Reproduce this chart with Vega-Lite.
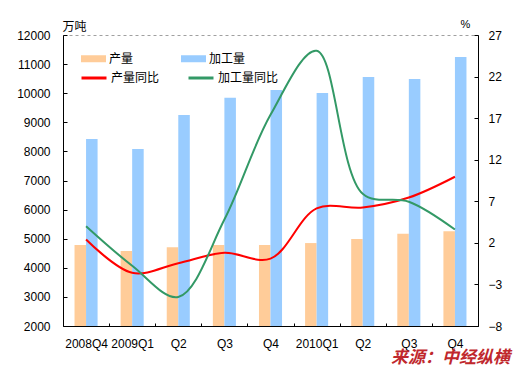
{
  "$schema": "https://vega.github.io/schema/vega-lite/v6.json",
  "width": 415,
  "height": 291,
  "autosize": {"type": "none"},
  "padding": {"left": 63, "top": 35, "right": 39, "bottom": 43},
  "background": "white",
  "config": {
    "font": "Liberation Sans, Noto Sans CJK SC",
    "view": {"stroke": "#a0a0a0", "strokeDash": [3, 3], "strokeWidth": 1},
    "axis": {
      "domainColor": "black",
      "tickColor": "black",
      "labelColor": "black",
      "labelFontSize": 12,
      "labelFont": "Liberation Sans",
      "grid": false,
      "titleFontWeight": "normal",
      "titleColor": "black"
    },
    "legend": {"padding": 0}
  },
  "title": {
    "text": "来源：中经纵横",
    "orient": "bottom",
    "anchor": "end",
    "frame": "group",
    "font": "Noto Sans CJK SC",
    "fontSize": 17,
    "fontWeight": "bold",
    "fontStyle": "italic",
    "color": "#C0282D",
    "offset": 1,
    "dx": 32
  },
  "datasets": {
    "bars": [
      {"period": "2008Q4", "series": "产量", "value": 4780},
      {"period": "2008Q4", "series": "加工量", "value": 8430},
      {"period": "2009Q1", "series": "产量", "value": 4580},
      {"period": "2009Q1", "series": "加工量", "value": 8080},
      {"period": "2009Q2", "series": "产量", "value": 4710},
      {"period": "2009Q2", "series": "加工量", "value": 9250},
      {"period": "2009Q3", "series": "产量", "value": 4780},
      {"period": "2009Q3", "series": "加工量", "value": 9840},
      {"period": "2009Q4", "series": "产量", "value": 4780},
      {"period": "2009Q4", "series": "加工量", "value": 10110},
      {"period": "2010Q1", "series": "产量", "value": 4850},
      {"period": "2010Q1", "series": "加工量", "value": 10010},
      {"period": "2010Q2", "series": "产量", "value": 4990},
      {"period": "2010Q2", "series": "加工量", "value": 10560},
      {"period": "2010Q3", "series": "产量", "value": 5170},
      {"period": "2010Q3", "series": "加工量", "value": 10490},
      {"period": "2010Q4", "series": "产量", "value": 5260},
      {"period": "2010Q4", "series": "加工量", "value": 11240}
    ],
    "lines": [
      {"period": "2008Q4", "series": "产量同比", "value": 2.4},
      {"period": "2009Q1", "series": "产量同比", "value": -1.6},
      {"period": "2009Q2", "series": "产量同比", "value": -0.45},
      {"period": "2009Q3", "series": "产量同比", "value": 0.8},
      {"period": "2009Q4", "series": "产量同比", "value": 0.1},
      {"period": "2010Q1", "series": "产量同比", "value": 6.15},
      {"period": "2010Q2", "series": "产量同比", "value": 6.25},
      {"period": "2010Q3", "series": "产量同比", "value": 7.45},
      {"period": "2010Q4", "series": "产量同比", "value": 9.95},
      {"period": "2008Q4", "series": "加工量同比", "value": 4.0},
      {"period": "2009Q1", "series": "加工量同比", "value": -0.75},
      {"period": "2009Q2", "series": "加工量同比", "value": -4.5},
      {"period": "2009Q3", "series": "加工量同比", "value": 4.8},
      {"period": "2009Q4", "series": "加工量同比", "value": 17.4},
      {"period": "2010Q1", "series": "加工量同比", "value": 25.1},
      {"period": "2010Q2", "series": "加工量同比", "value": 7.9},
      {"period": "2010Q3", "series": "加工量同比", "value": 6.95},
      {"period": "2010Q4", "series": "加工量同比", "value": 3.6}
    ]
  },
  "layer": [
    {
      "data": {"name": "bars"},
      "mark": {"type": "bar"},
      "encoding": {
        "x": {
          "field": "period",
          "type": "nominal",
          "sort": ["2008Q4", "2009Q1", "2009Q2", "2009Q3", "2009Q4", "2010Q1", "2010Q2", "2010Q3", "2010Q4"],
          "scale": {"paddingInner": 0, "paddingOuter": 0},
          "axis": {
            "title": null,
            "labelAngle": 0,
            "tickBand": "extent",
            "tickSize": -3,
            "labelPadding": 15,
            "labelOverlap": false,
            "labelExpr": "!isString(datum.value) ? '' : (indexof(['2008Q4','2009Q1','2010Q1'], datum.value) >= 0 ? datum.value : substring(datum.value, 4))"
          }
        },
        "xOffset": {
          "field": "series",
          "type": "nominal",
          "sort": ["产量", "加工量"],
          "scale": {"paddingInner": 0, "paddingOuter": 1.096}
        },
        "y": {
          "field": "value",
          "type": "quantitative",
          "scale": {"domain": [2000, 12000], "zero": false, "nice": false},
          "axis": {
            "values": [2000, 3000, 4000, 5000, 6000, 7000, 8000, 9000, 10000, 11000, 12000],
            "tickSize": -4,
            "labelPadding": 17,
            "labelFlush": false,
            "format": "d",
            "title": "万吨",
            "titleFont": "Noto Sans CJK SC",
            "titleFontSize": 12,
            "titleAngle": 0,
            "titleX": -1,
            "titleY": -5,
            "titleAlign": "left",
            "titleBaseline": "alphabetic"
          }
        },
        "y2": {"datum": 2000},
        "fill": {
          "field": "series",
          "type": "nominal",
          "scale": {"domain": ["产量", "加工量"], "range": ["#FFCC99", "#99CCFF"]},
          "legend": {
            "orient": "none",
            "legendX": 18,
            "legendY": 11,
            "direction": "horizontal",
            "columns": 2,
            "title": null,
            "symbolType": "M-1,-0.28L1,-0.28L1,0.28L-1,0.28Z",
            "symbolSize": 625,
            "symbolStrokeWidth": 0,
            "symbolOpacity": 1,
            "labelFont": "Noto Sans CJK SC",
            "labelFontSize": 12,
            "labelColor": "black",
            "labelOffset": 3,
            "columnPadding": 47
          }
        }
      }
    },
    {
      "data": {"name": "lines"},
      "mark": {"type": "line", "interpolate": "catmull-rom", "strokeWidth": 2},
      "encoding": {
        "x": {
          "field": "period",
          "type": "nominal",
          "sort": ["2008Q4", "2009Q1", "2009Q2", "2009Q3", "2009Q4", "2010Q1", "2010Q2", "2010Q3", "2010Q4"]
        },
        "y": {
          "field": "value",
          "type": "quantitative",
          "scale": {"domain": [-8, 27], "zero": false, "nice": false},
          "axis": {
            "orient": "right",
            "values": [-8, -3, 2, 7, 12, 17, 22, 27],
            "tickSize": -4,
            "labelPadding": 14,
            "labelFlush": false,
            "title": "%",
            "titleFontSize": 11,
            "titleAngle": 0,
            "titleX": -18,
            "titleY": -8,
            "titleAlign": "left",
            "titleBaseline": "alphabetic"
          }
        },
        "stroke": {
          "field": "series",
          "type": "nominal",
          "scale": {"domain": ["产量同比", "加工量同比"], "range": ["#FF0000", "#339966"]},
          "legend": {
            "orient": "none",
            "legendX": 17,
            "legendY": 29,
            "direction": "horizontal",
            "columns": 2,
            "title": null,
            "symbolType": "stroke",
            "symbolSize": 625,
            "symbolStrokeWidth": 3,
            "labelFont": "Noto Sans CJK SC",
            "labelFontSize": 12,
            "labelColor": "black",
            "labelOffset": 3,
            "columnPadding": 22
          }
        }
      }
    }
  ],
  "resolve": {"scale": {"y": "independent"}}
}
